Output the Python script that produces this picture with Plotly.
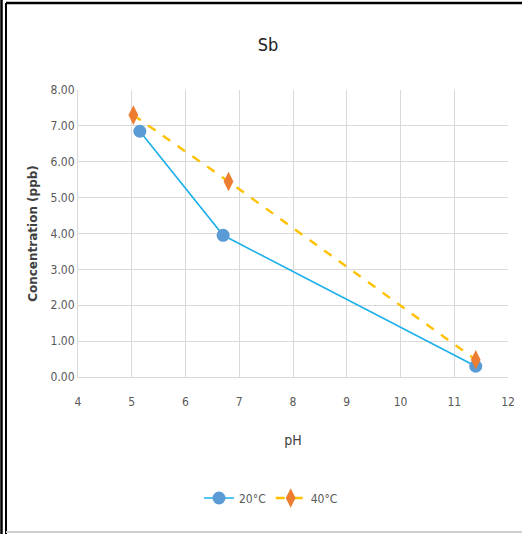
import plotly.graph_objects as go

# Sb concentration vs pH at two temperatures
ph_20 = [5.15, 6.70, 11.40]
conc_20 = [6.85, 3.95, 0.30]
ph_40 = [5.03, 6.80, 11.40]
conc_40 = [7.30, 5.45, 0.48]

y_ticks = [0, 1, 2, 3, 4, 5, 6, 7, 8]
y_tick_text = [f"{v:.2f}" for v in y_ticks]
x_ticks = [4, 5, 6, 7, 8, 9, 10, 11, 12]

W, H = 522, 534
L, R, T, B = 78, 14, 90, 157

NARROW = "DejaVu Sans Condensed, Liberation Sans Narrow, sans-serif"
tick_font = dict(family=NARROW, size=12, color="#595959")

fig = go.Figure()
fig.add_trace(go.Scatter(
    x=ph_20, y=conc_20, name="20\u00b0C", mode="lines+markers",
    line=dict(color="#1ab0ea", width=1.6),
    marker=dict(symbol="circle", size=13, color="#5b9bd5"),
))
fig.add_trace(go.Scatter(
    x=ph_40, y=conc_40, name="40\u00b0C", mode="lines+markers",
    line=dict(color="#ffc000", width=2.4, dash="dash"),
    marker=dict(symbol="diamond-tall", size=14, color="#ed7d31"),
))

# frame lines around the chart
def px_x(p):
    return (p - L) / (W - L - R)

def px_y(p):
    return 1 - (p - T) / (H - T - B)

frame = [
    dict(x0=px_x(1.5), x1=px_x(1.5), y0=px_y(0), y1=px_y(H), color="black", w=2.5),
    dict(x0=px_x(6), x1=px_x(6), y0=px_y(3), y1=px_y(H), color="black", w=2),
    dict(x0=px_x(6), x1=px_x(W), y0=px_y(3), y1=px_y(3), color="black", w=2.5),
    dict(x0=px_x(6), x1=px_x(W), y0=px_y(532), y1=px_y(532), color="#d0d0d0", w=2),
]
for f in frame:
    fig.add_shape(type="line", xref="paper", yref="paper",
                  x0=f["x0"], x1=f["x1"], y0=f["y0"], y1=f["y1"],
                  line=dict(color=f["color"], width=f["w"]))

fig.update_layout(
    width=W, height=H,
    margin=dict(l=L, r=R, t=T, b=B, autoexpand=False),
    paper_bgcolor="white", plot_bgcolor="white",
    title=dict(text="Sb", x=268 / W, xanchor="center", xref="container",
               y=1 - 45 / H, yanchor="middle", yref="container",
               font=dict(family=NARROW, size=18, color="#222222")),
    xaxis=dict(range=[4, 12], tickvals=x_ticks, showgrid=True, gridcolor="#d9d9d9", gridwidth=1,
               zeroline=False, showline=True, linecolor="#d9d9d9", linewidth=1,
               tickfont=tick_font, ticks="", ticklabelstandoff=14, automargin=False,
               title=dict(text="pH", font=dict(family=NARROW, size=14, color="#404040"),
                          standoff=26)),
    yaxis=dict(range=[0, 8], tickvals=y_ticks, ticktext=y_tick_text, showgrid=True,
               gridcolor="#d9d9d9", gridwidth=1, zeroline=False, showline=True,
               linecolor="#d9d9d9", linewidth=1, tickfont=tick_font, ticks="",
               automargin=False,
               title=dict(text="<b>Concentration (ppb)</b>",
                          font=dict(family="DejaVu Sans, Verdana, sans-serif", size=12, color="#404040"),
                          standoff=10)),
    legend=dict(orientation="h", x=px_x(199), xanchor="left", xref="paper",
                y=px_y(498), yanchor="middle", font=tick_font,
                itemwidth=30, tracegroupgap=0),
    showlegend=True,
)

fig.write_html("out.html")
